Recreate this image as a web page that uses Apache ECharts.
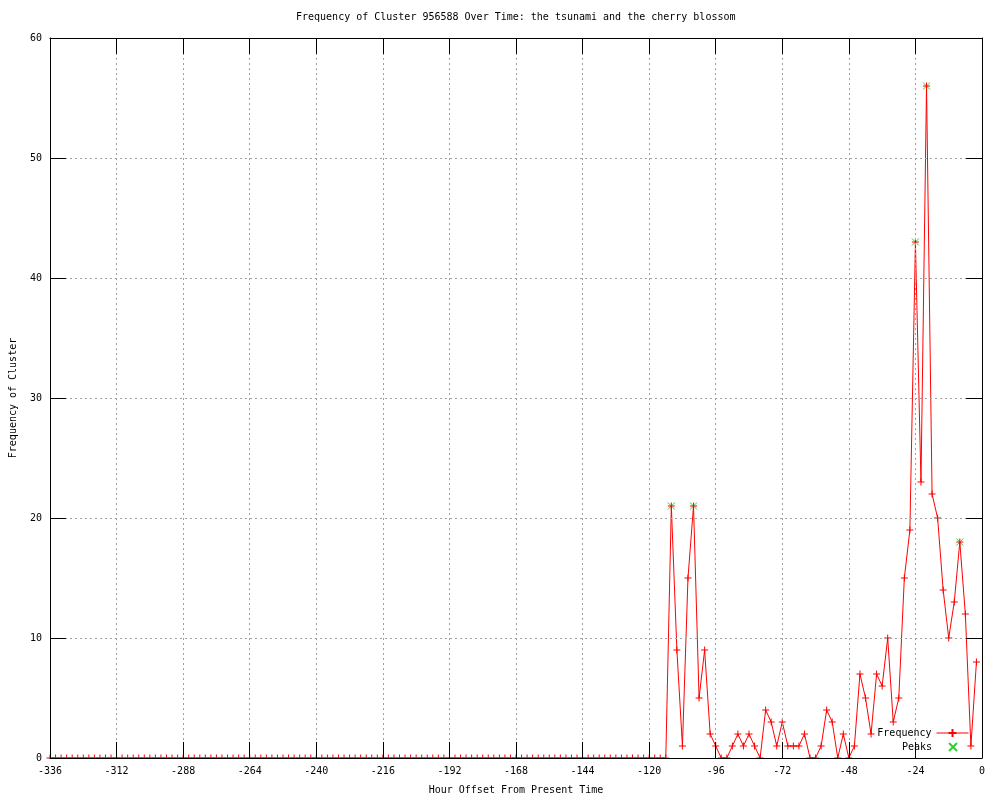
<!DOCTYPE html>
<html>
<head>
<meta charset="utf-8">
<script src="https://cdn.jsdelivr.net/npm/echarts@6/dist/echarts.min.js"></script>
<style>html,body{margin:0;padding:0;background:#fff}#c{width:1000px;height:800px}</style>
</head>
<body>
<div id="c"></div>
<script>
// ---- data ----
const titleText = 'Frequency of Cluster 956588 Over Time: the tsunami and the cherry blossom';
const xName = 'Hour Offset From Present Time';
const yName = 'Frequency of Cluster';
const firstHour = -336;   // first sample (hours)
const hourStep = 2;       // sampling interval (hours)
const frequency = [
  0,0,0,0,0,0,0,0,0,0,0,0,
  0,0,0,0,0,0,0,0,0,0,0,0,
  0,0,0,0,0,0,0,0,0,0,0,0,
  0,0,0,0,0,0,0,0,0,0,0,0,
  0,0,0,0,0,0,0,0,0,0,0,0,
  0,0,0,0,0,0,0,0,0,0,0,0,
  0,0,0,0,0,0,0,0,0,0,0,0,
  0,0,0,0,0,0,0,0,0,0,0,0,
  0,0,0,0,0,0,0,0,0,0,0,0,
  0,0,0,0,
  21, 9, 1,15,21, 5, 9, 2, 1, 0, 0, 1,
   2, 1, 2, 1, 0, 4, 3, 1, 3, 1, 1, 1,
   2, 0, 0, 1, 4, 3, 0, 2, 0, 1, 7, 5,
   2, 7, 6,10, 3, 5,15,19,43,23,56,22,
  20,14,10,13,18,12, 1, 8
];
const peakHours = [-112, -104, -24, -20, -8];
const peakValues = [21, 21, 43, 56, 18];
const xTicks = { min: -336, max: 0, interval: 24 };
const yTicks = { min: 0, max: 60, interval: 10 };

// ---- build ----
const hours = frequency.map((_, i) => firstHour + i * hourStep);
const PLUS = 'path://M0,5L10,5M5,0L5,10';
const PLUS_UPPER = 'path://M0,5L10,5M5,0L5,5M5,10L5,10';
const CROSS = 'path://M0,0L10,10M10,0L0,10';
const FONT = 'DejaVu Sans Mono';

const freqData = frequency.map((v, i) => v === 0
  ? { value: [hours[i], v], symbol: PLUS_UPPER }
  : { value: [hours[i], v] });
const peakData = peakHours.map((h, i) => [h, peakValues[i]]);

const chart = echarts.init(document.getElementById('c'), null, { renderer: 'canvas' });
const txt = { fontFamily: FONT, fontSize: 10, color: '#000' };
const tick = { show: true, inside: true, length: 16, lineStyle: { color: '#000', width: 1 } };
const line = { show: true, onZero: false, lineStyle: { color: '#000', width: 1 } };
const split = { show: true, lineStyle: { color: '#a0a0a0', width: 1, type: [2, 3] } };

chart.setOption({
  animation: false,
  backgroundColor: '#fff',
  title: { text: titleText, left: 296, top: 12, padding: 0,
    textStyle: { fontFamily: FONT, fontSize: 10, fontWeight: 'normal', color: '#000' } },
  grid: { left: 50, right: 18, top: 38, bottom: 40 },
  legend: [
    { data: ['Frequency'], right: 31, top: 728, orient: 'vertical', align: 'right',
      itemWidth: 32, itemHeight: 10, padding: 0, selectedMode: false, textStyle: txt,
      lineStyle: { width: 1 } },
    { data: ['Peaks'], right: 42, top: 742, orient: 'vertical', align: 'right',
      itemWidth: 32, itemHeight: 8, padding: 0, selectedMode: false, textStyle: txt }
  ],
  xAxis: [
    { type: 'value', position: 'bottom', min: xTicks.min, max: xTicks.max, interval: xTicks.interval, z: 3,
      axisLine: line, axisTick: tick, splitLine: split,
      axisLabel: Object.assign({ margin: 8 }, txt),
      name: xName, nameLocation: 'middle', nameGap: 27, nameTextStyle: txt },
    { type: 'value', position: 'top', min: xTicks.min, max: xTicks.max, interval: xTicks.interval, z: 3,
      axisLine: line, axisTick: tick, splitLine: { show: false }, axisLabel: { show: false } }
  ],
  yAxis: [
    { type: 'value', position: 'left', min: yTicks.min, max: yTicks.max, interval: yTicks.interval, z: 3,
      axisLine: line, axisTick: tick, splitLine: split,
      axisLabel: Object.assign({ margin: 8 }, txt),
      name: yName, nameLocation: 'middle', nameGap: 32, nameRotate: 90, nameTextStyle: txt },
    { type: 'value', position: 'right', min: yTicks.min, max: yTicks.max, interval: yTicks.interval, z: 3,
      axisLine: line, axisTick: tick, splitLine: { show: false }, axisLabel: { show: false } }
  ],
  series: [
    { name: 'Frequency', type: 'line', data: freqData, xAxisIndex: 0, yAxisIndex: 0,
      symbol: PLUS, symbolSize: 7, showSymbol: true, showAllSymbol: true,
      lineStyle: { color: '#ff0000', width: 1 },
      itemStyle: { color: '#ff0000', borderColor: '#ff0000', borderWidth: 1 },
      emphasis: { disabled: true }, z: 2 },
    { name: 'Peaks', type: 'scatter', data: peakData, xAxisIndex: 0, yAxisIndex: 0,
      symbol: CROSS, symbolSize: 7,
      itemStyle: { color: '#00c000', borderColor: '#00c000', borderWidth: 1 },
      emphasis: { disabled: true }, z: 1 }
  ]
});
</script>
</body>
</html>
